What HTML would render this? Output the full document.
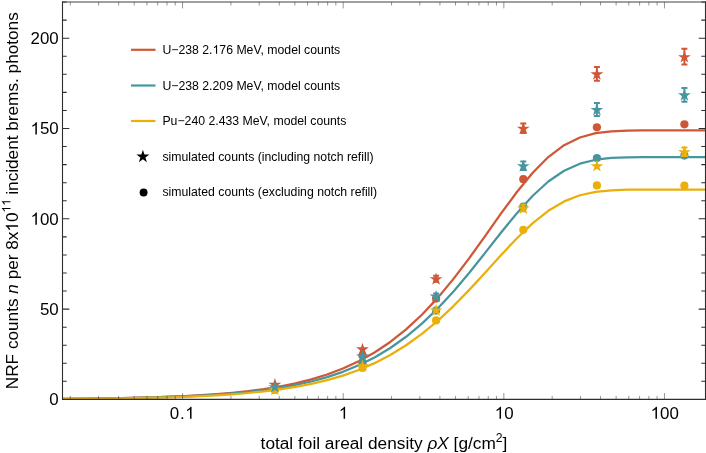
<!DOCTYPE html>
<html><head><meta charset="utf-8"><title>plot</title>
<style>html,body{margin:0;padding:0;background:#fff}body{width:706px;height:453px;overflow:hidden}svg{display:block;will-change:transform}text{font-family:"Liberation Sans",sans-serif;fill:#000}</style></head><body>
<svg width="706" height="453" viewBox="0 0 706 453">
<rect width="706" height="453" fill="#fff"/>
<defs><clipPath id="cp"><rect x="62.50" y="2.00" width="643.00" height="398.60"/></clipPath></defs>
<g clip-path="url(#cp)" fill="none" stroke-width="2.25" stroke-linejoin="round">
<polyline stroke="#CF5737" points="58.5,398.85 74.3,398.70 90.1,398.53 105.9,398.31 121.7,398.03 137.5,397.68 153.3,397.25 169.1,396.70 184.9,396.02 200.7,395.17 216.5,394.10 232.3,392.77 248.1,391.12 263.9,389.05 279.7,386.49 295.5,383.30 311.3,379.37 327.1,374.52 342.9,368.57 358.7,361.31 374.5,352.52 390.3,341.97 406.1,329.44 421.9,314.77 437.7,297.89 453.5,278.89 469.3,258.07 485.1,236.04 500.9,213.70 516.7,192.24 532.5,172.95 548.3,157.03 564.1,145.19 579.9,137.47 595.7,133.20 611.5,131.28 627.3,130.60 643.1,130.43 658.9,130.40 674.7,130.40 690.5,130.40 706.3,130.40"/>
<polyline stroke="#47969F" points="58.5,398.90 74.3,398.78 90.1,398.62 105.9,398.42 121.7,398.17 137.5,397.86 153.3,397.48 169.1,396.99 184.9,396.38 200.7,395.62 216.5,394.66 232.3,393.48 248.1,391.99 263.9,390.15 279.7,387.85 295.5,385.01 311.3,381.49 327.1,377.15 342.9,371.82 358.7,365.33 374.5,357.46 390.3,348.01 406.1,336.79 421.9,323.64 437.7,308.50 453.5,291.44 469.3,272.74 485.1,252.92 500.9,232.80 516.7,213.42 532.5,195.97 548.3,181.52 564.1,170.74 579.9,163.67 595.7,159.74 611.5,157.95 627.3,157.32 643.1,157.16 658.9,157.13 674.7,157.13 690.5,157.13 706.3,157.13"/>
<polyline stroke="#EAAF0B" points="58.5,398.97 74.3,398.86 90.1,398.73 105.9,398.56 121.7,398.34 137.5,398.07 153.3,397.74 169.1,397.32 184.9,396.79 200.7,396.13 216.5,395.31 232.3,394.28 248.1,393.00 263.9,391.40 279.7,389.42 295.5,386.96 311.3,383.92 327.1,380.17 342.9,375.57 358.7,369.95 374.5,363.15 390.3,354.98 406.1,345.28 421.9,333.91 437.7,320.81 453.5,306.06 469.3,289.87 485.1,272.71 500.9,255.27 516.7,238.48 532.5,223.34 548.3,210.79 564.1,201.41 579.9,195.26 595.7,191.83 611.5,190.27 627.3,189.71 643.1,189.57 658.9,189.55 674.7,189.54 690.5,189.54 706.3,189.54"/>
</g>
<polygon fill="#CF5737" points="274.90,378.00 276.40,382.63 281.27,382.63 277.33,385.49 278.84,390.12 274.90,387.26 270.96,390.12 272.47,385.49 268.53,382.63 273.40,382.63"/>
<circle cx="274.90" cy="388.60" r="4.10" fill="#47969F"/>
<circle cx="274.90" cy="390.10" r="4.10" fill="#EAAF0B"/>
<polygon fill="#EAAF0B" points="274.90,383.20 276.40,387.83 281.27,387.83 277.33,390.69 278.84,395.32 274.90,392.46 270.96,395.32 272.47,390.69 268.53,387.83 273.40,387.83"/>
<polygon fill="#47969F" points="274.90,380.50 276.40,385.13 281.27,385.13 277.33,387.99 278.84,392.62 274.90,389.76 270.96,392.62 272.47,387.99 268.53,385.13 273.40,385.13"/>
<circle cx="362.50" cy="355.50" r="4.10" fill="#CF5737"/>
<polygon fill="#CF5737" points="362.50,342.70 364.00,347.33 368.87,347.33 364.93,350.19 366.44,354.82 362.50,351.96 358.56,354.82 360.07,350.19 356.13,347.33 361.00,347.33"/>
<circle cx="362.50" cy="363.30" r="4.10" fill="#47969F"/>
<polygon fill="#47969F" points="362.50,349.80 364.00,354.43 368.87,354.43 364.93,357.29 366.44,361.92 362.50,359.06 358.56,361.92 360.07,357.29 356.13,354.43 361.00,354.43"/>
<circle cx="362.50" cy="368.00" r="4.10" fill="#EAAF0B"/>
<polygon fill="#EAAF0B" points="362.50,359.50 364.00,364.13 368.87,364.13 364.93,366.99 366.44,371.62 362.50,368.76 358.56,371.62 360.07,366.99 356.13,364.13 361.00,364.13"/>
<polygon fill="#CF5737" points="436.10,272.60 437.60,277.23 442.47,277.23 438.53,280.09 440.04,284.72 436.10,281.86 432.16,284.72 433.67,280.09 429.73,277.23 434.60,277.23"/>
<path d="M436.10 275.80V281.80M433.10 275.80h6M433.10 281.80h6" stroke="#CF5737" stroke-width="2" fill="none"/>
<circle cx="436.10" cy="298.60" r="4.10" fill="#CF5737"/>
<polygon fill="#47969F" points="436.10,289.90 437.60,294.53 442.47,294.53 438.53,297.39 440.04,302.02 436.10,299.16 432.16,302.02 433.67,297.39 429.73,294.53 434.60,294.53"/>
<path d="M436.10 293.50V298.70M433.10 293.50h6M433.10 298.70h6" stroke="#47969F" stroke-width="2" fill="none"/>
<circle cx="436.10" cy="310.60" r="4.10" fill="#47969F"/>
<polygon fill="#EAAF0B" points="436.10,303.80 437.60,308.43 442.47,308.43 438.53,311.29 440.04,315.92 436.10,313.06 432.16,315.92 433.67,311.29 429.73,308.43 434.60,308.43"/>
<circle cx="436.10" cy="320.40" r="4.10" fill="#EAAF0B"/>
<polygon fill="#CF5737" points="523.30,122.05 524.80,126.68 529.67,126.68 525.73,129.54 527.24,134.17 523.30,131.31 519.36,134.17 520.87,129.54 516.93,126.68 521.80,126.68"/>
<path d="M523.30 123.60V132.90M520.30 123.60h6M520.30 132.90h6" stroke="#CF5737" stroke-width="2" fill="none"/>
<circle cx="523.30" cy="179.20" r="4.10" fill="#CF5737"/>
<polygon fill="#47969F" points="523.30,159.60 524.80,164.23 529.67,164.23 525.73,167.09 527.24,171.72 523.30,168.86 519.36,171.72 520.87,167.09 516.93,164.23 521.80,164.23"/>
<path d="M523.30 161.60V170.00M520.30 161.60h6M520.30 170.00h6" stroke="#47969F" stroke-width="2" fill="none"/>
<circle cx="523.30" cy="206.70" r="4.10" fill="#47969F"/>
<polygon fill="#EAAF0B" points="523.30,201.80 524.80,206.43 529.67,206.43 525.73,209.29 527.24,213.92 523.30,211.06 519.36,213.92 520.87,209.29 516.93,206.43 521.80,206.43"/>
<path d="M523.30 204.70V211.30M520.30 204.70h6M520.30 211.30h6" stroke="#EAAF0B" stroke-width="2" fill="none"/>
<circle cx="523.30" cy="229.80" r="4.10" fill="#EAAF0B"/>
<polygon fill="#CF5737" points="596.90,67.70 598.40,72.33 603.27,72.33 599.33,75.19 600.84,79.82 596.90,76.96 592.96,79.82 594.47,75.19 590.53,72.33 595.40,72.33"/>
<path d="M596.90 67.00V80.80M593.90 67.00h6M593.90 80.80h6" stroke="#CF5737" stroke-width="2" fill="none"/>
<circle cx="596.90" cy="127.30" r="4.10" fill="#CF5737"/>
<polygon fill="#47969F" points="596.90,103.35 598.40,107.98 603.27,107.98 599.33,110.84 600.84,115.47 596.90,112.61 592.96,115.47 594.47,110.84 590.53,107.98 595.40,107.98"/>
<path d="M596.90 103.00V116.10M593.90 103.00h6M593.90 116.10h6" stroke="#47969F" stroke-width="2" fill="none"/>
<circle cx="596.90" cy="158.00" r="4.10" fill="#47969F"/>
<polygon fill="#EAAF0B" points="596.90,159.50 598.40,164.13 603.27,164.13 599.33,166.99 600.84,171.62 596.90,168.76 592.96,171.62 594.47,166.99 590.53,164.13 595.40,164.13"/>
<circle cx="596.90" cy="185.40" r="4.10" fill="#EAAF0B"/>
<polygon fill="#CF5737" points="684.40,50.50 685.90,55.13 690.77,55.13 686.83,57.99 688.34,62.62 684.40,59.76 680.46,62.62 681.97,57.99 678.03,55.13 682.90,55.13"/>
<path d="M684.40 48.85V64.55M681.40 48.85h6M681.40 64.55h6" stroke="#CF5737" stroke-width="2" fill="none"/>
<circle cx="684.40" cy="124.30" r="4.10" fill="#CF5737"/>
<polygon fill="#47969F" points="684.40,88.70 685.90,93.33 690.77,93.33 686.83,96.19 688.34,100.82 684.40,97.96 680.46,100.82 681.97,96.19 678.03,93.33 682.90,93.33"/>
<path d="M684.40 87.95V101.85M681.40 87.95h6M681.40 101.85h6" stroke="#47969F" stroke-width="2" fill="none"/>
<circle cx="684.40" cy="155.60" r="4.10" fill="#47969F"/>
<polygon fill="#EAAF0B" points="684.40,145.50 685.90,150.13 690.77,150.13 686.83,152.99 688.34,157.62 684.40,154.76 680.46,157.62 681.97,152.99 678.03,150.13 682.90,150.13"/>
<path d="M684.40 147.50V155.90M681.40 147.50h6M681.40 155.90h6" stroke="#EAAF0B" stroke-width="2" fill="none"/>
<circle cx="684.40" cy="185.70" r="4.10" fill="#EAAF0B"/>
<g stroke="#2e2e2e" stroke-width="0.8" fill="none">
<path d="M62.00 2.00H706.00" stroke-width="0.9"/>
<path d="M62.50 399.40H705.50M62.50 2.00V399.40M705.50 2.00V399.40" stroke-width="1.1" stroke-linecap="square"/>
<path d="M62.50 399.40h6.80M705.50 399.40h-6.80M62.50 381.34h4.20M705.50 381.34h-4.20M62.50 363.28h4.20M705.50 363.28h-4.20M62.50 345.22h4.20M705.50 345.22h-4.20M62.50 327.16h4.20M705.50 327.16h-4.20M62.50 309.10h6.80M705.50 309.10h-6.80M62.50 291.04h4.20M705.50 291.04h-4.20M62.50 272.98h4.20M705.50 272.98h-4.20M62.50 254.92h4.20M705.50 254.92h-4.20M62.50 236.86h4.20M705.50 236.86h-4.20M62.50 218.80h6.80M705.50 218.80h-6.80M62.50 200.74h4.20M705.50 200.74h-4.20M62.50 182.68h4.20M705.50 182.68h-4.20M62.50 164.62h4.20M705.50 164.62h-4.20M62.50 146.56h4.20M705.50 146.56h-4.20M62.50 128.50h6.80M705.50 128.50h-6.80M62.50 110.44h4.20M705.50 110.44h-4.20M62.50 92.38h4.20M705.50 92.38h-4.20M62.50 74.32h4.20M705.50 74.32h-4.20M62.50 56.26h4.20M705.50 56.26h-4.20M62.50 38.20h6.80M705.50 38.20h-6.80M62.50 20.14h4.20M705.50 20.14h-4.20M62.50 2.08h4.20M705.50 2.08h-4.20" stroke-width="1.05"/>
<path d="M70.29 399.40v-3.50M70.29 2.00v3.50M98.58 399.40v-3.50M98.58 2.00v3.50M118.65 399.40v-3.50M118.65 2.00v3.50M134.22 399.40v-3.50M134.22 2.00v3.50M146.93 399.40v-3.50M146.93 2.00v3.50M157.69 399.40v-3.50M157.69 2.00v3.50M167.00 399.40v-3.50M167.00 2.00v3.50M175.22 399.40v-3.50M175.22 2.00v3.50M182.57 399.40v-6.40M182.57 2.00v6.40M230.92 399.40v-3.50M230.92 2.00v3.50M259.21 399.40v-3.50M259.21 2.00v3.50M279.28 399.40v-3.50M279.28 2.00v3.50M294.85 399.40v-3.50M294.85 2.00v3.50M307.56 399.40v-3.50M307.56 2.00v3.50M318.32 399.40v-3.50M318.32 2.00v3.50M327.63 399.40v-3.50M327.63 2.00v3.50M335.85 399.40v-3.50M335.85 2.00v3.50M343.20 399.40v-6.40M343.20 2.00v6.40M391.55 399.40v-3.50M391.55 2.00v3.50M419.84 399.40v-3.50M419.84 2.00v3.50M439.91 399.40v-3.50M439.91 2.00v3.50M455.48 399.40v-3.50M455.48 2.00v3.50M468.19 399.40v-3.50M468.19 2.00v3.50M478.95 399.40v-3.50M478.95 2.00v3.50M488.26 399.40v-3.50M488.26 2.00v3.50M496.48 399.40v-3.50M496.48 2.00v3.50M503.83 399.40v-6.40M503.83 2.00v6.40M552.18 399.40v-3.50M552.18 2.00v3.50M580.47 399.40v-3.50M580.47 2.00v3.50M600.54 399.40v-3.50M600.54 2.00v3.50M616.11 399.40v-3.50M616.11 2.00v3.50M628.82 399.40v-3.50M628.82 2.00v3.50M639.58 399.40v-3.50M639.58 2.00v3.50M648.89 399.40v-3.50M648.89 2.00v3.50M657.11 399.40v-3.50M657.11 2.00v3.50M664.46 399.40v-6.40M664.46 2.00v6.40" stroke-width="0.5"/>
</g>
<text x="49.35" y="405.35" font-size="16.90">0</text>
<text x="39.95" y="315.05" font-size="16.90">5</text><text x="49.35" y="315.05" font-size="16.90">0</text>
<path d="M763 0L583 0L583 1147Q518 1085 412.5 1023Q307 961 223 930L223 1104Q374 1175 487 1276Q600 1377 647 1472L763 1472Z" transform="translate(30.55,224.75) scale(0.00825,-0.00825)" fill="#000"/><text x="39.95" y="224.75" font-size="16.90">0</text><text x="49.35" y="224.75" font-size="16.90">0</text>
<path d="M763 0L583 0L583 1147Q518 1085 412.5 1023Q307 961 223 930L223 1104Q374 1175 487 1276Q600 1377 647 1472L763 1472Z" transform="translate(30.55,134.45) scale(0.00825,-0.00825)" fill="#000"/><text x="39.95" y="134.45" font-size="16.90">5</text><text x="49.35" y="134.45" font-size="16.90">0</text>
<text x="30.55" y="44.15" font-size="16.90">2</text><text x="39.95" y="44.15" font-size="16.90">0</text><text x="49.35" y="44.15" font-size="16.90">0</text>
<path d="M763 0L583 0L583 1147Q518 1085 412.5 1023Q307 961 223 930L223 1104Q374 1175 487 1276Q600 1377 647 1472L763 1472Z" transform="translate(338.80,418.80) scale(0.00825,-0.00825)" fill="#000"/>
<path d="M763 0L583 0L583 1147Q518 1085 412.5 1023Q307 961 223 930L223 1104Q374 1175 487 1276Q600 1377 647 1472L763 1472Z" transform="translate(494.73,418.80) scale(0.00825,-0.00825)" fill="#000"/><text x="504.13" y="418.80" font-size="16.90">0</text>
<path d="M763 0L583 0L583 1147Q518 1085 412.5 1023Q307 961 223 930L223 1104Q374 1175 487 1276Q600 1377 647 1472L763 1472Z" transform="translate(650.66,418.80) scale(0.00825,-0.00825)" fill="#000"/><text x="660.06" y="418.80" font-size="16.90">0</text><text x="669.46" y="418.80" font-size="16.90">0</text>
<text x="169.75" y="418.80" font-size="16.90">0</text><text x="179.95" y="418.80" font-size="16.90">.</text><path d="M763 0L583 0L583 1147Q518 1085 412.5 1023Q307 961 223 930L223 1104Q374 1175 487 1276Q600 1377 647 1472L763 1472Z" transform="translate(185.24,418.80) scale(0.00825,-0.00825)" fill="#000"/>
<text x="260.6" y="448.8" font-size="17.26">total foil areal density <tspan font-style="italic">ρX</tspan> [g/cm<tspan font-size="12.2" dy="-6.5">2</tspan><tspan dy="6.5">]</tspan></text>
<g transform="translate(18.1,389.2) rotate(-90)">
<text xml:space="preserve" x="0" y="0" font-size="17.20">NRF counts </text>
<text x="95.52" y="0" font-size="17.20" font-style="italic">n</text>
<text xml:space="preserve" x="105.08" y="0" font-size="17.20"> per 8x</text>
<path d="M763 0L583 0L583 1147Q518 1085 412.5 1023Q307 961 223 930L223 1104Q374 1175 487 1276Q600 1377 647 1472L763 1472Z" transform="translate(157.63,0.00) scale(0.00840,-0.00840)" fill="#000"/>
<text x="167.19" y="0" font-size="17.20">0</text>
<path d="M763 0L583 0L583 1147Q518 1085 412.5 1023Q307 961 223 930L223 1104Q374 1175 487 1276Q600 1377 647 1472L763 1472Z" transform="translate(176.75,-7.60) scale(0.00586,-0.00586)" fill="#000"/>
<path d="M763 0L583 0L583 1147Q518 1085 412.5 1023Q307 961 223 930L223 1104Q374 1175 487 1276Q600 1377 647 1472L763 1472Z" transform="translate(183.42,-7.60) scale(0.00586,-0.00586)" fill="#000"/>
<text xml:space="preserve" x="189.7" y="0" font-size="17.20"> incident brems. photons</text>
</g>
<line x1="131" x2="155.5" y1="49.80" y2="49.80" stroke="#CF5737" stroke-width="2.2"/>
<text x="162.4" y="53.80" font-size="12.27">U−238 2.</text>
<path d="M763 0L583 0L583 1147Q518 1085 412.5 1023Q307 961 223 930L223 1104Q374 1175 487 1276Q600 1377 647 1472L763 1472Z" transform="translate(212.52,53.80) scale(0.00599,-0.00599)" fill="#000"/>
<text x="219.35" y="53.80" font-size="12.27">76 MeV, model counts</text>
<line x1="131" x2="155.5" y1="85.50" y2="85.50" stroke="#47969F" stroke-width="2.2"/>
<text x="162.4" y="89.50" font-size="12.27">U−238 2.209 MeV, model counts</text>
<line x1="131" x2="155.5" y1="121.00" y2="121.00" stroke="#EAAF0B" stroke-width="2.2"/>
<text x="162.4" y="125.00" font-size="12.27">Pu−240 2.433 MeV, model counts</text>
<polygon fill="#000" points="142.90,149.75 144.44,154.48 149.41,154.48 145.39,157.41 146.93,162.14 142.90,159.22 138.87,162.14 140.41,157.41 136.39,154.48 141.36,154.48"/>
<text x="162.4" y="160.8" font-size="12.25">simulated counts (including notch refill)</text>
<circle cx="143.60" cy="192.50" r="3.95" fill="#000"/>
<text x="162.4" y="196.1" font-size="12.27">simulated counts (excluding notch refill)</text>
</svg></body></html>
